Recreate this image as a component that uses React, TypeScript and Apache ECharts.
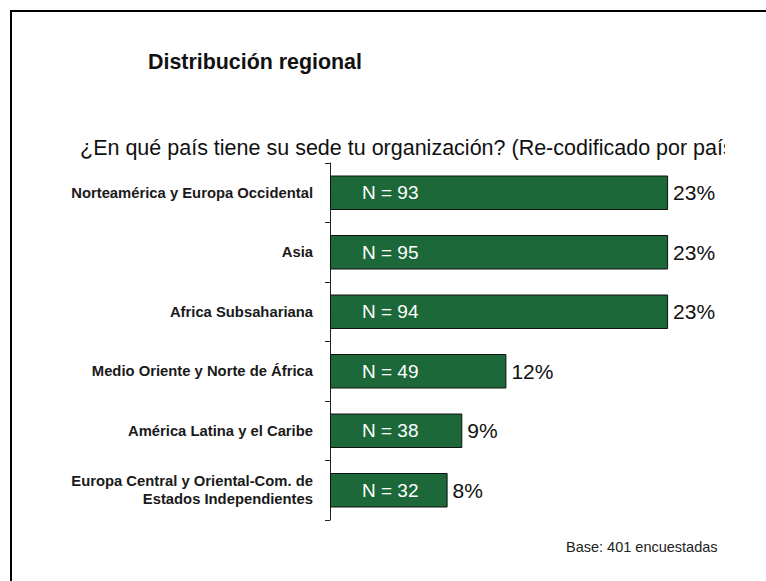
import React, { useEffect, useRef } from "react";
import * as echarts from "echarts";

const categories = [
  "Norteamérica y Europa Occidental",
  "Asia",
  "Africa Subsahariana",
  "Medio Oriente y Norte de África",
  "América Latina y el Caribe",
  "Europa Central y Oriental-Com. de\nEstados Independientes",
];
const percentValues = [23, 23, 23, 12, 9, 8];
const nValues = [93, 95, 94, 49, 38, 32];
const titleText = "Distribución regional";
const subtitleText = "¿En qué país tiene su sede tu organización? (Re-codificado por país)";
const baseText = "Base: 401 encuestadas";

const FONT = "'Liberation Sans', Arial, Helvetica, sans-serif";

export default function App() {
  const ref = useRef<HTMLDivElement>(null);
  useEffect(() => {
    if (!ref.current) return;
    const chart = echarts.init(ref.current, null, { renderer: "svg" });
    chart.setOption({
      animation: false,
      backgroundColor: "#ffffff",
      textStyle: { fontFamily: FONT },
      title: [
        {
          text: titleText,
          left: 143,
          top: 46,
          textStyle: { fontFamily: FONT, fontSize: 21.4, fontWeight: "bold", color: "#111" },
        },
        {
          text: subtitleText,
          left: 75,
          top: 132,
          z: 1,
          textStyle: {
            fontFamily: FONT,
            fontSize: 21.5,
            fontWeight: "normal",
            color: "#111",
          },
        },
        {
          text: baseText,
          left: 561,
          top: 534,
          textStyle: { fontFamily: FONT, fontSize: 14.5, fontWeight: "normal", color: "#222" },
        },
      ],
      graphic: [
        {
          type: "rect",
          shape: { x: 725, y: 128, width: 60, height: 40 },
          style: { fill: "#ffffff" },
          z: 100,
          silent: true,
        },
        {
          type: "rect",
          shape: { x: 11, y: 11, width: 800, height: 620 },
          style: { fill: "none", stroke: "#000", lineWidth: 2 },
          z: 101,
          silent: true,
        },
      ],
      grid: { left: 330, top: 163, width: 367.5, bottom: 61, containLabel: false },
      xAxis: {
        type: "value",
        min: 0,
        max: 25,
        show: false,
      },
      yAxis: {
        type: "category",
        data: categories,
        inverse: true,
        axisLine: { show: true, lineStyle: { color: "#222", width: 1 } },
        axisTick: { show: true, length: 5, lineStyle: { color: "#222" } },
        axisLabel: {
          margin: 17,
          fontFamily: FONT,
          fontSize: 14.8,
          fontWeight: "bold",
          color: "#1a1a1a",
          lineHeight: 18,
          align: "right",
        },
      },
      series: [
        {
          type: "bar",
          data: percentValues,
          barWidth: 34.5,
          itemStyle: { color: "#1c6838", borderColor: "#111", borderWidth: 1 },
          label: {
            show: true,
            position: "right",
            distance: 5,
            formatter: "{c}%",
            fontFamily: FONT,
            fontSize: 21,
            color: "#111",
          },
          z: 2,
        },
        {
          type: "bar",
          data: percentValues,
          barWidth: 34.5,
          barGap: "-100%",
          itemStyle: { color: "rgba(0,0,0,0)", borderWidth: 0 },
          label: {
            show: true,
            position: "insideLeft",
            distance: 32,
            formatter: (p: any) => "N = " + nValues[p.dataIndex],
            fontFamily: FONT,
            fontSize: 19,
            color: "#ffffff",
          },
          z: 3,
        },
      ],
    });
    return () => chart.dispose();
  }, []);
  return (
    <div
      ref={ref}
      style={{ position: "fixed", left: 0, top: 0, width: 766, height: 581 }}
    />
  );
}
